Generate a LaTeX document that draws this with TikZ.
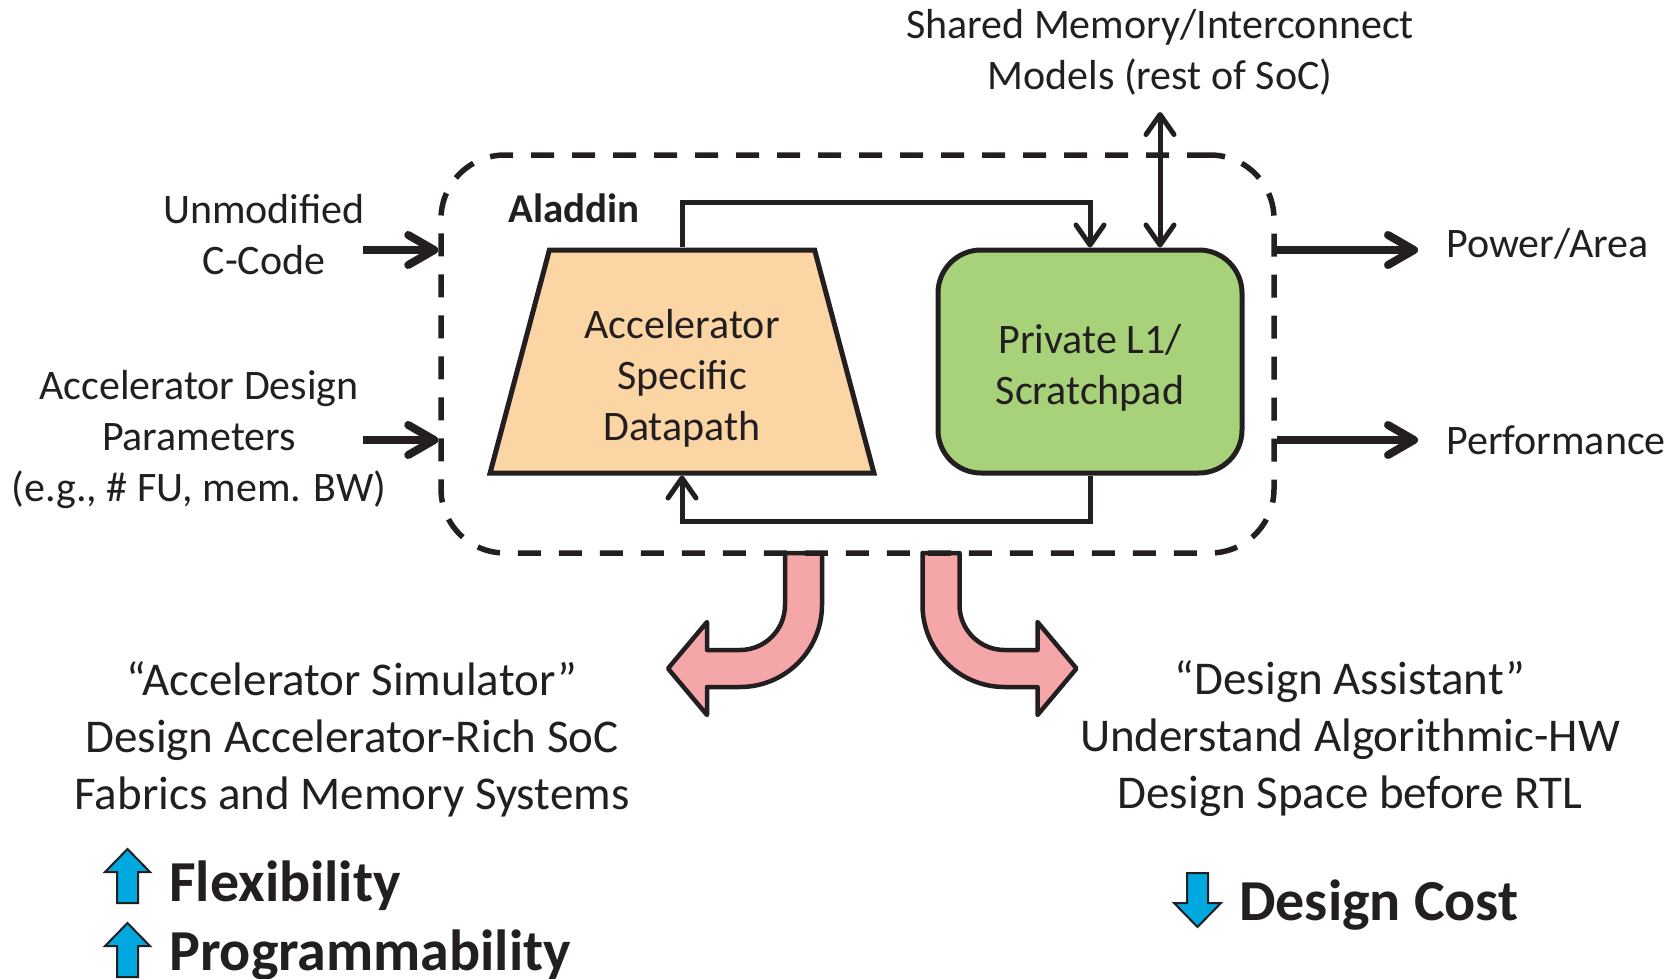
\documentclass[tikz,border=0pt]{standalone}
\usepackage{fontspec}
\setmainfont{Carlito}
\usetikzlibrary{arrows.meta,shapes.geometric}
\definecolor{peach}{HTML}{FCD5A5}
\definecolor{lgreen}{HTML}{A8D279}
\definecolor{pinkarrow}{HTML}{F4A6A8}
\definecolor{bluearrow}{HTML}{00A8E0}
\definecolor{ink}{HTML}{231F20}
\begin{document}
\begin{tikzpicture}[x=1pt,y=-1pt,
  line/.style={line width=5pt,draw=ink},
  ioline/.style={line width=8pt,draw=ink},
  tip/.style={-{Straight Barb[length=20pt,width=28pt,round]}},
  iotip/.style={-{Straight Barb[length=26pt,width=30pt,round]}},
  tipboth/.style={{Straight Barb[length=20pt,width=28pt,round]}-{Straight Barb[length=20pt,width=28pt,round]}},
  lbl/.style={inner sep=0pt,text=ink,font=\fontsize{42}{51}\selectfont},
  boldlbl/.style={inner sep=0pt,text=ink,font=\fontsize{41}{50}\selectfont\bfseries},
  biglbl/.style={inner sep=0pt,text=ink,font=\fontsize{47}{57}\selectfont},
  boldbig/.style={inner sep=0pt,text=ink,font=\fontsize{58}{70}\selectfont\bfseries},
  dashbox/.style={line width=5.5pt,draw=ink,dash pattern=on 23pt off 18pt,rounded corners=64pt,minimum width=833pt,minimum height=398pt},
  pinkshape/.style={line width=4.5pt,draw=ink,fill=pinkarrow,line join=round},
  blueshape/.style={line width=2pt,draw=ink,fill=bluearrow,line join=miter}]
\useasboundingbox (0,0) rectangle (1675,979);

% pink curved arrows
\draw[pinkshape] (785,553) -- (785,605) arc[start angle=0,end angle=90,radius=45]
  -- (707,650) -- (707,622) -- (668,668.5) -- (707,715) -- (707,687) -- (740,687)
  arc[start angle=90,end angle=0,radius=82] -- (822,553) -- cycle;
\draw[pinkshape] (959.5,553) -- (959.5,605) arc[start angle=180,end angle=90,radius=45]
  -- (1037.5,650) -- (1037.5,622) -- (1076.5,668.5) -- (1037.5,715) -- (1037.5,687) -- (1004.5,687)
  arc[start angle=90,end angle=180,radius=82] -- (922.5,553) -- cycle;

% Aladdin box
\node[dashbox] (box) at (857.5,354) {};
\node[boldlbl] (alad) at (574,208) {Aladdin};

\node[trapezium,trapezium angle=77.4,trapezium stretches=true,minimum width=384pt,minimum height=223pt,line,fill=peach] (dp) at (682,361.5) {};
\node[lbl,align=center] (dptext) at (682,378) {Accelerator\\Specific\\Datapath};

\node[line,fill=lgreen,rounded corners=43pt,minimum width=304pt,minimum height=223pt,draw=ink] (l1) at (1090,361.5) {};
\node[lbl,align=center] (l1text) at (1090,367.5) {Private L1/\\Scratchpad};

\draw[line,tip] (dp.north) -- ++(0,-45) -| (l1.north);
\draw[line,tip] (l1.south) -- ++(0,46) -| (dp.south);

\coordinate (smtop) at (1160,112);
\draw[line,tipboth] (smtop) -- (smtop |- l1.north);
\node[lbl,align=center] (sm) at (1160,52) {Shared Memory/Interconnect\\Models (rest of SoC)};

% inputs
\coordinate (in1) at (363,250);
\coordinate (in2) at (363,440);
\draw[ioline,iotip] (in1) -- (in1 -| box.west);
\draw[ioline,iotip] (in2) -- (in2 -| box.west);
\node[lbl,align=center] (cc) at (264,234.5) {Unmodified\\C-Code};
\node[lbl,align=center] (adp) at (199,440) {Accelerator Design\\Parameters\\(e.g., \# FU, mem. BW)};

% outputs
\coordinate (out1) at (1418,250);
\coordinate (out2) at (1418,440);
\draw[ioline,iotip] (out1 -| box.east) -- (out1);
\draw[ioline,iotip] (out2 -| box.east) -- (out2);
\node[lbl,anchor=west] (pa) at (1446,244) {Power/Area};
\node[lbl,anchor=west] (perf) at (1446,440) {Performance};

% bottom texts
\node[biglbl,align=center] (sim) at (352,739) {“Accelerator Simulator”\\Design Accelerator-Rich SoC\\Fabrics and Memory Systems};
\node[biglbl,align=center] (asst) at (1350,739) {“Design Assistant”\\Understand Algorithmic-HW\\Design Space before RTL};

% blue arrows
\draw[blueshape] (117,903) -- (117,872) -- (105,872) -- (127.5,849) -- (150,872) -- (138,872) -- (138,903) -- cycle;
\draw[blueshape] (117,977) -- (117,946) -- (105,946) -- (127.5,923) -- (150,946) -- (138,946) -- (138,977) -- cycle;
\draw[blueshape] (1187,873) -- (1187,903) -- (1174,903) -- (1197.5,927) -- (1221,903) -- (1208,903) -- (1208,873) -- cycle;

\node[boldbig,anchor=west] (flex) at (169,886) {Flexibility};
\node[boldbig,anchor=west] (prog) at (169,955) {Programmability};
\node[boldbig,anchor=west] (cost) at (1239,905) {Design Cost};
\end{tikzpicture}
\end{document}
